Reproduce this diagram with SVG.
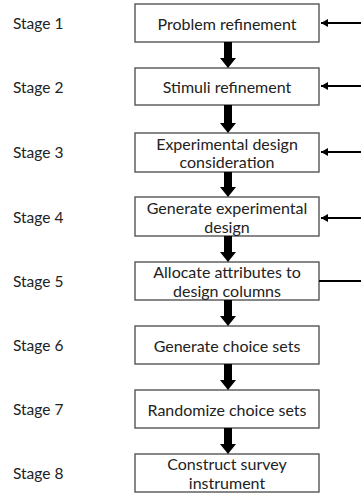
<svg xmlns="http://www.w3.org/2000/svg" width="361" height="496" viewBox="0 0 361 496">
<style>
.bg{fill:#fff}
.box{fill:#fff;stroke:#555;stroke-width:1.4}
.t{font-family:Lato,"Open Sans","Liberation Sans",sans-serif;font-size:16px;fill:#222;text-anchor:middle;dominant-baseline:central}
.s{font-family:Lato,"Open Sans","Liberation Sans",sans-serif;font-size:15.5px;fill:#222;dominant-baseline:central}
.fb{stroke:#000;stroke-width:2;fill:none}
.thick{fill:#000}
</style>
<defs>
<marker id="ah" markerWidth="8" markerHeight="8" refX="7" refY="4" orient="auto" markerUnits="userSpaceOnUse">
<path d="M0,0 L7,4 L0,8 Z" fill="#000"/>
</marker>
</defs>
<rect class="bg" width="361" height="496"/>
<g id="labels">
<text class="s" x="13" y="23">Stage 1</text>
<text class="s" x="13" y="87">Stage 2</text>
<text class="s" x="13" y="152">Stage 3</text>
<text class="s" x="13" y="217">Stage 4</text>
<text class="s" x="13" y="281">Stage 5</text>
<text class="s" x="13" y="345">Stage 6</text>
<text class="s" x="13" y="409">Stage 7</text>
<text class="s" x="13" y="473">Stage 8</text>
</g>
<g id="n1"><rect class="box" x="135" y="4" width="184" height="38"/><text class="t" x="227" y="23">Problem refinement</text></g>
<g id="n2"><rect class="box" x="135" y="68" width="184" height="37"/><text class="t" x="227" y="86.5">Stimuli refinement</text></g>
<g id="n3"><rect class="box" x="135" y="133" width="184" height="39"/><text class="t" x="227" y="143">Experimental design</text><text class="t" x="227" y="161.5">consideration</text></g>
<g id="n4"><rect class="box" x="135" y="197" width="184" height="39"/><text class="t" x="227" y="207">Generate experimental</text><text class="t" x="227" y="226">design</text></g>
<g id="n5"><rect class="box" x="135" y="262" width="184" height="38"/><text class="t" x="227" y="271.5">Allocate attributes to</text><text class="t" x="227" y="290.5">design columns</text></g>
<g id="n6"><rect class="box" x="135" y="326" width="184" height="38"/><text class="t" x="227" y="345">Generate choice sets</text></g>
<g id="n7"><rect class="box" x="135" y="390" width="184" height="38"/><text class="t" x="227" y="409">Randomize choice sets</text></g>
<g id="n8"><rect class="box" x="135" y="454" width="184" height="38"/><text class="t" x="227" y="463.5">Construct survey</text><text class="t" x="227" y="482.5">instrument</text></g>
<g id="connectors">
<polygon class="thick" points="224,42 232,42 232,58 236,58 228,68 220,58 224,58"/>
<polygon class="thick" points="224,105 232,105 232,123 236,123 228,133 220,123 224,123"/>
<polygon class="thick" points="224,172 232,172 232,187 236,187 228,197 220,187 224,187"/>
<polygon class="thick" points="224,236 232,236 232,252 236,252 228,262 220,252 224,252"/>
<polygon class="thick" points="224,300 232,300 232,316 236,316 228,326 220,316 224,316"/>
<polygon class="thick" points="224,364 232,364 232,380 236,380 228,390 220,380 224,380"/>
<polygon class="thick" points="224,428 232,428 232,444 236,444 228,454 220,444 224,444"/>
<line class="fb" x1="361" y1="23" x2="321" y2="23" marker-end="url(#ah)"/>
<line class="fb" x1="361" y1="86" x2="321" y2="86" marker-end="url(#ah)"/>
<line class="fb" x1="361" y1="152" x2="321" y2="152" marker-end="url(#ah)"/>
<line class="fb" x1="361" y1="218" x2="321" y2="218" marker-end="url(#ah)"/>
<line class="fb" x1="361" y1="281" x2="319" y2="281"/>
</g>
</svg>
